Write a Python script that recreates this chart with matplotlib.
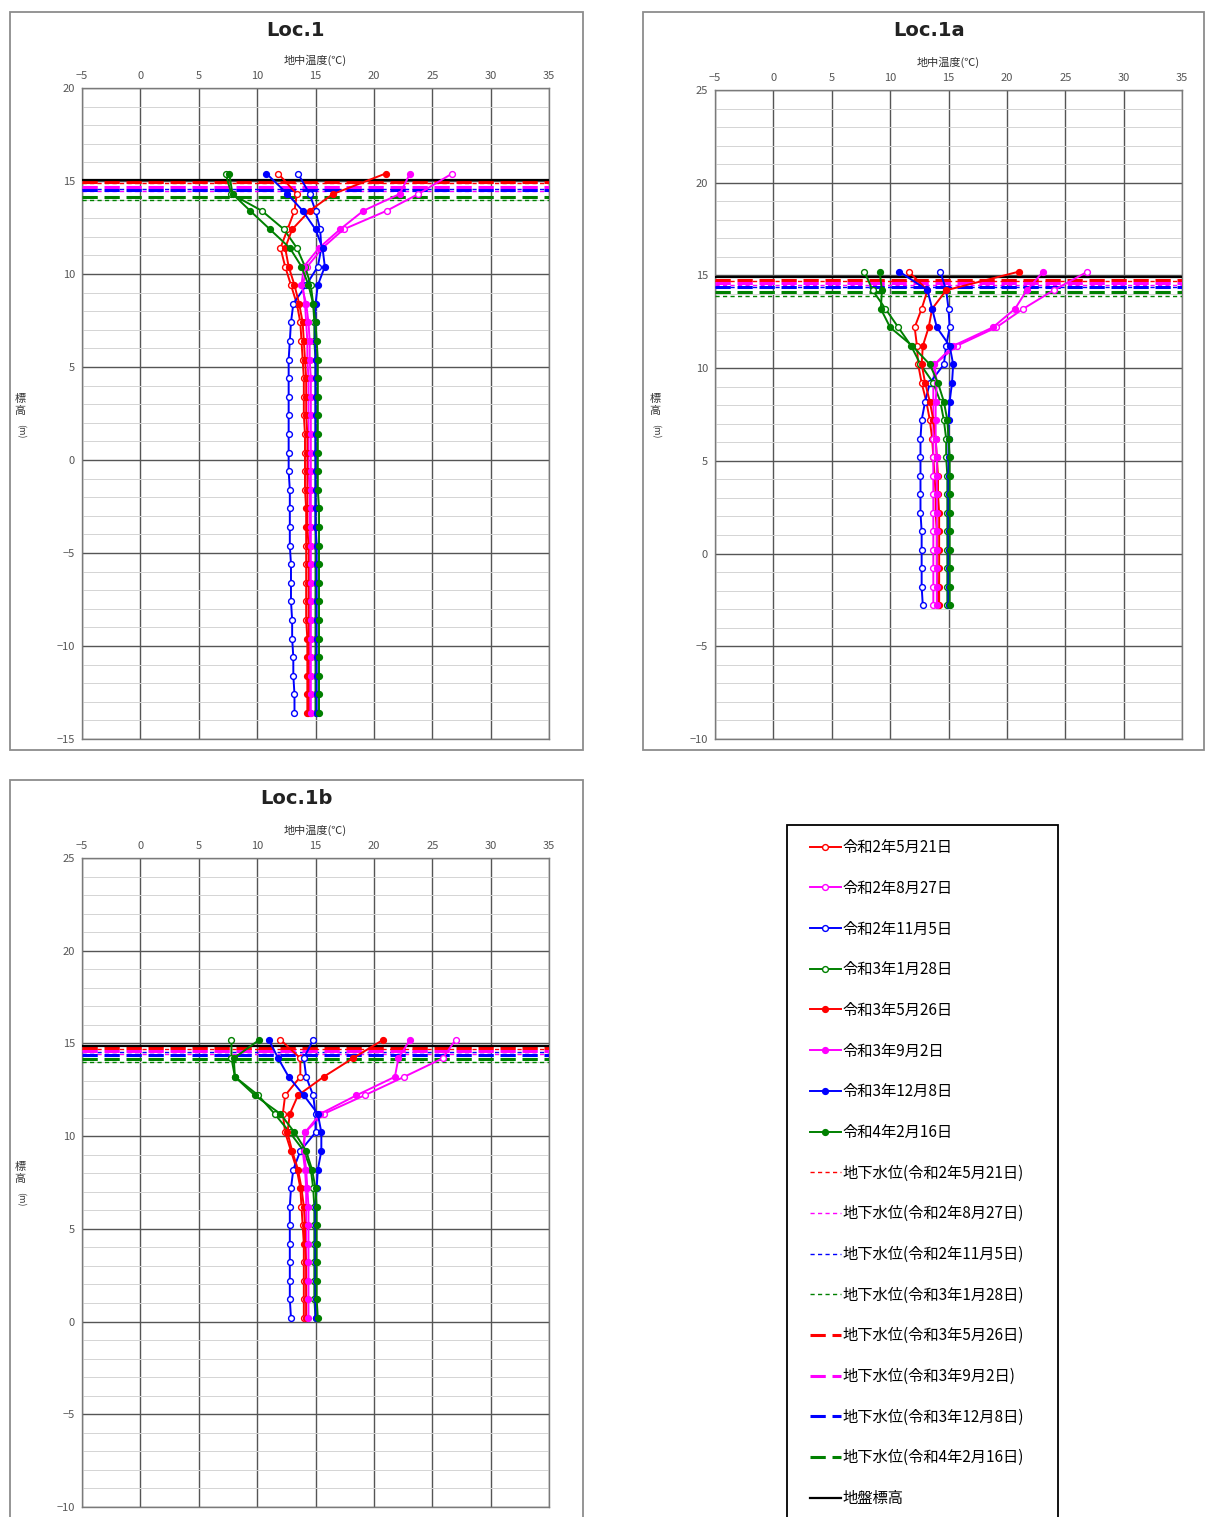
# 地中温度プロファイル (Loc.1 / Loc.1a / Loc.1b)
import matplotlib
matplotlib.use('Agg')
import matplotlib.pyplot as plt
from matplotlib.patches import Rectangle

plt.rcParams['font.family'] = ['Noto Sans CJK JP', 'DejaVu Sans']

W, H = 1205, 1517

# --- labels / legend ---
series_labels = ['令和2年5月21日', '令和2年8月27日', '令和2年11月5日', '令和3年1月28日',
                 '令和3年5月26日', '令和3年9月2日', '令和3年12月8日', '令和4年2月16日']
wl_labels = ['地下水位(令和2年5月21日)', '地下水位(令和2年8月27日)', '地下水位(令和2年11月5日)',
             '地下水位(令和3年1月28日)', '地下水位(令和3年5月26日)', '地下水位(令和3年9月2日)',
             '地下水位(令和3年12月8日)', '地下水位(令和4年2月16日)']
ground_label = '地盤標高'
colors = ['#FF0000', '#FF00FF', '#0000FF', '#008000'] * 2

# --- Loc.1 ---
loc1_elev = [15.4, 14.3, 13.4, 12.4, 11.4, 10.4, 9.4, 8.4, 7.4, 6.4, 5.4, 4.4, 3.4, 2.4, 1.4,
             0.4, -0.6, -1.6, -2.6, -3.6, -4.6, -5.6, -6.6, -7.6, -8.6, -9.6, -10.6, -11.6, -12.6, -13.6]
loc1_r2_0521 = [11.8, 13.4, 13.2, 12.6, 12.0, 12.4, 12.9, 13.4, 13.7, 13.8, 13.9, 14.0, 14.0, 14.0, 14.1,
                14.1, 14.1, 14.1, 14.2, 14.2, 14.2, 14.2, 14.2, 14.2, 14.2, 14.3, 14.3, 14.3, 14.3, 14.3]
loc1_r2_0827 = [26.7, 23.8, 21.1, 17.4, 15.6, 14.3, 13.9, 14.1, 14.2, 14.3, 14.3, 14.4, 14.4, 14.4, 14.4,
                14.4, 14.4, 14.5, 14.5, 14.5, 14.5, 14.5, 14.5, 14.5, 14.5, 14.5, 14.5, 14.5, 14.5, 14.5]
loc1_r2_1105 = [13.5, 14.5, 15.0, 15.4, 15.5, 15.2, 14.2, 13.1, 12.9, 12.8, 12.7, 12.7, 12.7, 12.7, 12.7,
                12.7, 12.7, 12.8, 12.8, 12.8, 12.8, 12.9, 12.9, 12.9, 13.0, 13.0, 13.1, 13.1, 13.2, 13.2]
loc1_r3_0128 = [7.3, 7.8, 10.4, 12.3, 13.4, 14.1, 14.6, 14.8, 14.9, 14.9, 15.0, 15.0, 15.0, 15.0, 15.0,
                15.0, 15.0, 15.0, 15.0, 15.0, 15.0, 15.0, 15.0, 15.0, 15.0, 15.0, 15.0, 15.0, 15.0, 15.0]
loc1_r3_0526 = [21.0, 16.5, 14.5, 13.0, 12.4, 12.7, 13.2, 13.6, 13.9, 14.0, 14.1, 14.2, 14.2, 14.2, 14.3,
                14.3, 14.3, 14.3, 14.3, 14.3, 14.4, 14.4, 14.4, 14.4, 14.4, 14.4, 14.4, 14.4, 14.4, 14.4]
loc1_r3_0902 = [23.1, 22.2, 19.1, 17.1, 15.3, 14.0, 13.8, 14.2, 14.4, 14.5, 14.5, 14.6, 14.6, 14.6, 14.6,
                14.6, 14.6, 14.6, 14.6, 14.6, 14.6, 14.6, 14.6, 14.6, 14.6, 14.6, 14.6, 14.6, 14.6, 14.6]
loc1_r3_1208 = [10.8, 12.6, 13.9, 15.0, 15.6, 15.8, 15.2, 15.0, 15.0, 15.0, 15.0, 15.0, 15.0, 15.0, 15.0,
                15.0, 15.0, 15.0, 15.0, 15.0, 15.1, 15.1, 15.1, 15.1, 15.1, 15.1, 15.1, 15.1, 15.1, 15.1]
loc1_r4_0216 = [7.6, 7.9, 9.4, 11.1, 12.8, 13.8, 14.4, 14.8, 15.0, 15.1, 15.2, 15.2, 15.2, 15.2, 15.2,
                15.2, 15.2, 15.2, 15.3, 15.3, 15.3, 15.3, 15.3, 15.3, 15.3, 15.3, 15.3, 15.3, 15.3, 15.3]
loc1_wl = [14.9, 14.45, 14.55, 14.0, 14.95, 14.7, 14.5, 14.15]
loc1_ground = 15.05

# --- Loc.1a ---
loc1a_elev = [15.2, 14.2, 13.2, 12.2, 11.2, 10.2, 9.2, 8.2, 7.2, 6.2, 5.2, 4.2, 3.2, 2.2, 1.2,
              0.2, -0.8, -1.8, -2.8]
loc1a_r2_0521 = [11.6, 13.2, 12.7, 12.1, 12.3, 12.4, 12.7, 13.1, 13.4, 13.6, 13.7, 13.8, 13.9, 13.9,
                 14.0, 14.0, 14.0, 14.1, 14.1]
loc1a_r2_0827 = [26.9, 24.0, 21.4, 19.1, 15.7, 13.8, 13.7, 13.7, 13.7, 13.7, 13.7, 13.7, 13.7, 13.7,
                 13.7, 13.7, 13.7, 13.7, 13.7]
loc1a_r2_1105 = [14.3, 14.8, 15.0, 15.1, 14.8, 14.6, 13.4, 13.0, 12.7, 12.6, 12.6, 12.6, 12.6, 12.6,
                 12.7, 12.7, 12.7, 12.7, 12.8]
loc1a_r3_0128 = [7.8, 8.5, 9.6, 10.7, 11.8, 12.6, 13.7, 14.3, 14.6, 14.8, 14.8, 14.9, 14.9, 14.9,
                 14.9, 14.9, 14.9, 14.9, 14.9]
loc1a_r3_0526 = [21.0, 14.8, 13.6, 13.3, 12.8, 12.7, 13.0, 13.4, 13.7, 13.9, 14.0, 14.1, 14.1, 14.2,
                 14.2, 14.2, 14.2, 14.2, 14.2]
loc1a_r3_0902 = [23.1, 21.7, 20.7, 18.8, 15.4, 13.8, 14.0, 13.9, 13.9, 13.9, 14.0, 14.0, 14.0, 14.0,
                 14.0, 14.0, 14.0, 14.0, 14.0]
loc1a_r3_1208 = [10.8, 13.2, 13.6, 14.0, 15.1, 15.4, 15.3, 15.1, 15.0, 15.0, 15.0, 15.0, 15.0, 15.0,
                 15.0, 15.0, 15.0, 15.0, 15.0]
loc1a_r4_0216 = [9.1, 9.3, 9.2, 10.0, 11.9, 13.4, 14.1, 14.6, 14.9, 15.0, 15.1, 15.1, 15.1, 15.1,
                 15.1, 15.1, 15.1, 15.1, 15.1]
loc1a_wl = [14.7, 14.5, 14.4, 13.9, 14.75, 14.6, 14.4, 14.1]
loc1a_ground = 14.93

# --- Loc.1b ---
loc1b_elev = [15.2, 14.2, 13.2, 12.2, 11.2, 10.2, 9.2, 8.2, 7.2, 6.2, 5.2, 4.2, 3.2, 2.2, 1.2, 0.2]
loc1b_r2_0521 = [12.0, 13.7, 13.7, 12.4, 12.2, 12.4, 12.9, 13.4, 13.7, 13.8, 13.9, 14.0, 14.0, 14.0, 14.0, 14.0]
loc1b_r2_0827 = [27.0, 25.9, 22.6, 19.2, 15.7, 14.1, 13.9, 14.1, 14.2, 14.2, 14.2, 14.2, 14.2, 14.2, 14.2, 14.2]
loc1b_r2_1105 = [14.8, 14.0, 14.2, 14.8, 15.0, 15.0, 13.7, 13.1, 12.9, 12.8, 12.8, 12.8, 12.8, 12.8, 12.8, 12.9]
loc1b_r3_0128 = [7.8, 7.8, 8.1, 10.1, 11.5, 12.8, 14.0, 14.6, 14.8, 14.9, 14.9, 14.9, 14.9, 14.9, 14.9, 15.0]
loc1b_r3_0526 = [20.8, 18.2, 15.7, 13.5, 12.8, 12.6, 13.0, 13.5, 13.8, 14.0, 14.1, 14.1, 14.2, 14.2, 14.2, 14.2]
loc1b_r3_0902 = [23.1, 22.1, 21.8, 18.5, 15.4, 14.1, 14.0, 14.2, 14.3, 14.4, 14.4, 14.4, 14.4, 14.4, 14.4, 14.4]
loc1b_r3_1208 = [11.0, 11.8, 12.7, 14.0, 15.2, 15.5, 15.5, 15.2, 15.1, 15.0, 15.0, 15.0, 15.0, 15.0, 15.0, 15.0]
loc1b_r4_0216 = [10.2, 8.0, 8.1, 9.8, 12.0, 13.2, 14.2, 14.7, 15.0, 15.1, 15.1, 15.1, 15.1, 15.1, 15.1, 15.2]
loc1b_wl = [14.7, 14.45, 14.55, 14.0, 14.75, 14.6, 14.4, 14.15]
loc1b_ground = 14.85


def px_axes(x0, y0, x1, y1):
    # pixel box (top-left origin) -> figure fraction
    return [x0 / W, 1 - y1 / H, (x1 - x0) / W, (y1 - y0) / H]


def frame(x0, y0, x1, y1, ec='#8c8c8c', lw=1.3):
    fig.add_artist(Rectangle((x0 / W, 1 - y1 / H), (x1 - x0) / W, (y1 - y0) / H,
                             transform=fig.transFigure, fill=False, ec=ec, lw=lw))


def draw_panel(ax, elev, temps, wl, ground, ylim):
    handles = []
    for i, t in enumerate(temps):
        face = 'white' if i < 4 else colors[i]
        h, = ax.plot(t, elev, color=colors[i], lw=1.4, marker='o', ms=4.2,
                     mfc=face, mec=colors[i], mew=1.0, label=series_labels[i], zorder=4)
        handles.append(h)
    for i, lvl in enumerate(wl):
        if i < 4:
            h = ax.axhline(lvl, color=colors[i], lw=1.0, dashes=(3, 2.4), label=wl_labels[i], zorder=3)
        else:
            h = ax.axhline(lvl, color=colors[i], lw=2.2, dashes=(5, 2.2), label=wl_labels[i], zorder=3)
        handles.append(h)
    h = ax.axhline(ground, color='black', lw=1.6, label=ground_label, zorder=3)
    handles.append(h)

    ax.set_xlim(-5, 35)
    ax.set_ylim(*ylim)
    ax.set_xticks(range(-5, 36, 5))
    ax.set_yticks(range(ylim[0], ylim[1] + 1, 5))
    ax.set_yticks(range(ylim[0], ylim[1] + 1, 1), minor=True)
    ax.xaxis.tick_top()
    ax.xaxis.set_label_position('top')
    ax.set_xlabel('地中温度(℃)', fontsize=8, color='#333333', labelpad=5)
    ax.tick_params(which='both', length=0, labelsize=8, labelcolor='#555555', pad=5)
    ax.grid(which='major', color='#555555', lw=1.0)
    ax.grid(which='minor', axis='y', color='#d4d4d4', lw=0.7)
    ax.set_axisbelow(True)
    for s in ax.spines.values():
        s.set_color('#7a7a7a')
        s.set_linewidth(1.0)
    return handles


fig = plt.figure(figsize=(W / 100, H / 100), dpi=100)

frame(10, 12, 583, 750)
frame(643, 12, 1204, 750)
frame(10, 780, 583, 1530)

ax1 = fig.add_axes(px_axes(82, 88, 549, 739))
temps1 = [loc1_r2_0521, loc1_r2_0827, loc1_r2_1105, loc1_r3_0128,
          loc1_r3_0526, loc1_r3_0902, loc1_r3_1208, loc1_r4_0216]
handles = draw_panel(ax1, loc1_elev, temps1, loc1_wl, loc1_ground, (-15, 20))

ax2 = fig.add_axes(px_axes(715, 90, 1182, 739))
temps2 = [loc1a_r2_0521, loc1a_r2_0827, loc1a_r2_1105, loc1a_r3_0128,
          loc1a_r3_0526, loc1a_r3_0902, loc1a_r3_1208, loc1a_r4_0216]
draw_panel(ax2, loc1a_elev, temps2, loc1a_wl, loc1a_ground, (-10, 25))

ax3 = fig.add_axes(px_axes(82, 858, 549, 1507))
temps3 = [loc1b_r2_0521, loc1b_r2_0827, loc1b_r2_1105, loc1b_r3_0128,
          loc1b_r3_0526, loc1b_r3_0902, loc1b_r3_1208, loc1b_r4_0216]
draw_panel(ax3, loc1b_elev, temps3, loc1b_wl, loc1b_ground, (-10, 25))

# titles
for x, y, s in [(296, 30, 'Loc.1'), (929, 30, 'Loc.1a'), (296, 798, 'Loc.1b')]:
    fig.text(x / W, 1 - y / H, s, ha='center', va='center', fontsize=14,
             fontweight='bold', family='DejaVu Sans', color='#222222')

# y labels (vertical, one character per line)
for x, y in [(20, 399), (655, 399), (20, 1167)]:
    fig.text(x / W, 1 - y / H, '標', ha='center', va='center', fontsize=8, color='#333333')
    fig.text(x / W, 1 - (y + 12) / H, '高', ha='center', va='center', fontsize=8, color='#333333')
    fig.text(x / W, 1 - (y + 32) / H, '(m)', ha='center', va='center', fontsize=6.5,
             rotation=270, color='#333333')

# legend box drawn separately, entries placed inside it
frame(787, 825, 1058, 1530, ec='black', lw=1.3)
leg = fig.legend(handles=handles, loc='upper left',
                 bbox_to_anchor=(804 / W, 1 - 833 / H), frameon=False,
                 fontsize=11, numpoints=1, handlelength=2.0, handletextpad=0.1,
                 labelspacing=1.55, borderpad=0.4, borderaxespad=0.0)

fig.savefig('out.png', dpi=100)
